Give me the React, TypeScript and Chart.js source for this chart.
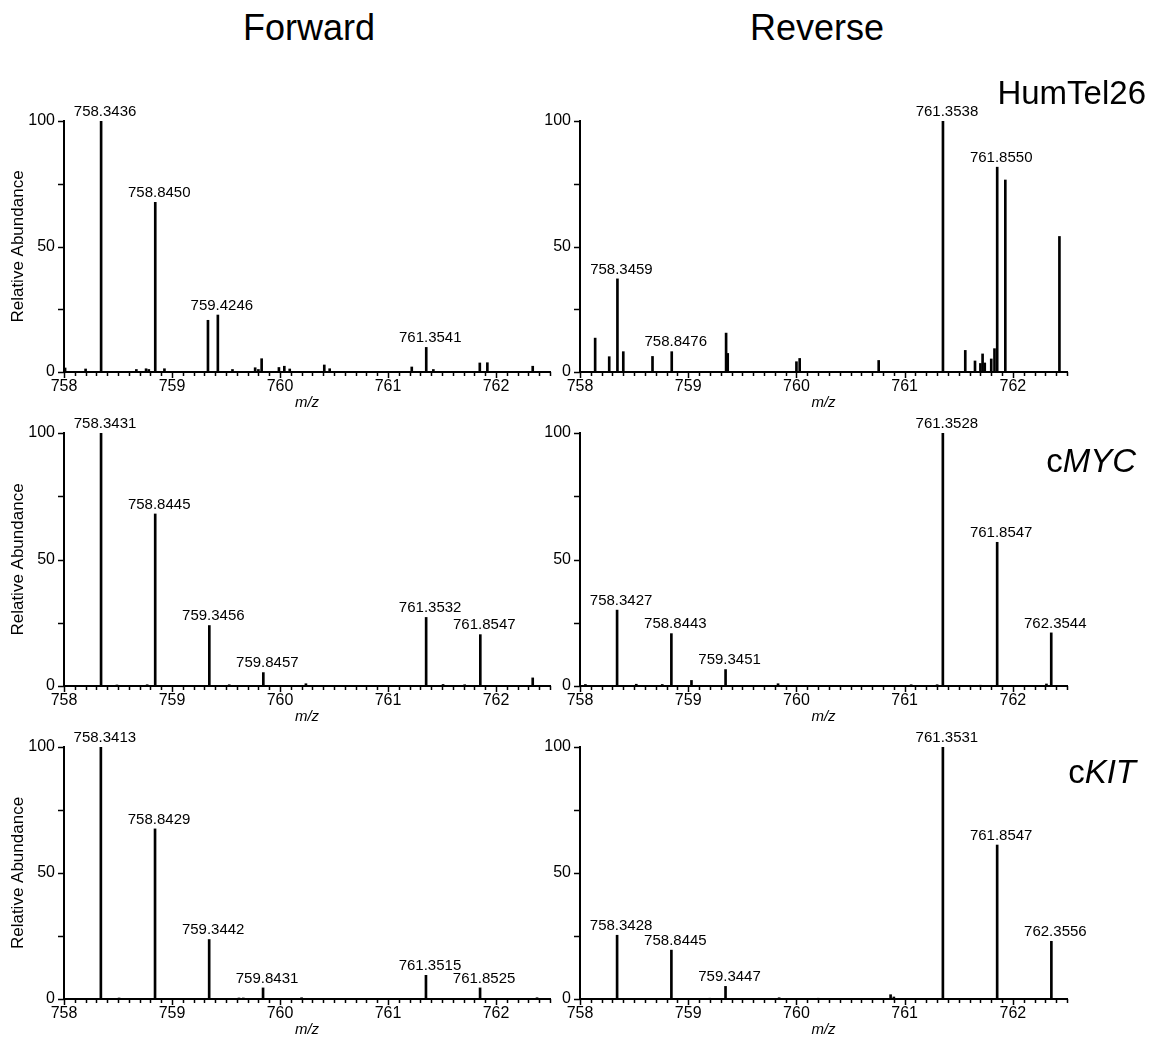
import React, { useEffect, useRef } from 'react';
import { Chart, registerables } from 'chart.js';

Chart.register(...registerables);

const FONT = '"Liberation Sans", Arial, Helvetica, sans-serif';

// Axis definitions
const X_MIN = 758;
const X_MAX = 762.5;
const X_STEP = 0.1;
const xTickLabels = [758, 759, 760, 761, 762];
const yTickValues = [0, 25, 50, 75, 100];
const yTickLabels = [0, 50, 100];

// Forward HumTel26
const fwdHumMz = [758.01, 758.2, 758.3436, 758.67, 758.76, 758.785, 758.845, 758.93, 759.333, 759.4246, 759.56, 759.77, 759.8, 759.83, 759.99, 760.04, 760.09, 760.41, 760.46, 761.22, 761.3541, 761.42, 761.85, 761.92, 762.34];
const fwdHumInt = [1.6, 1.2, 100, 1.0, 1.3, 1.0, 67.6, 1.3, 20.6, 22.7, 1.0, 1.7, 1.0, 5.3, 1.8, 2.3, 1.2, 2.8, 1.3, 2.0, 9.8, 1.0, 3.6, 3.7, 2.3];
const fwdHumLabels = ['758.3436', '758.8450', '759.4246', '761.3541'];

// Reverse HumTel26
const revHumMz = [758.14, 758.27, 758.3459, 758.4, 758.67, 758.8476, 759.35, 759.365, 760.0, 760.03, 760.76, 761.3538, 761.56, 761.65, 761.7, 761.72, 761.74, 761.8, 761.83, 761.855, 761.93, 762.43];
const revHumInt = [13.5, 6.1, 37.1, 8.1, 6.2, 8.1, 15.5, 7.4, 4.1, 5.4, 4.6, 100, 8.6, 4.4, 3.4, 7.2, 3.6, 5.2, 9.3, 81.6, 76.5, 54.0];
const revHumLabels = ['758.3459', '758.8476', '761.3538', '761.8550'];

// Forward cMYC
const fwdMycMz = [758.3431, 758.49, 758.77, 758.8445, 759.3456, 759.53, 759.8457, 760.24, 761.3532, 761.51, 761.71, 761.8547, 762.34];
const fwdMycInt = [100, 0.4, 0.5, 68.0, 23.9, 0.5, 5.3, 0.9, 27.1, 0.6, 0.5, 20.3, 3.2];
const fwdMycLabels = ['758.3431', '758.8445', '759.3456', '759.8457', '761.3532', '761.8547'];

// Reverse cMYC
const revMycMz = [758.05, 758.3427, 758.52, 758.76, 758.8443, 759.03, 759.3451, 759.83, 761.06, 761.3, 761.3528, 761.7, 761.8547, 762.31, 762.3544];
const revMycInt = [0.6, 30.0, 0.7, 0.6, 20.7, 2.2, 6.5, 0.9, 0.5, 0.5, 100, 0.3, 56.8, 0.8, 21.0];
const revMycLabels = ['758.3427', '758.8443', '759.3451', '761.3528', '761.8547', '762.3544'];

// Forward cKIT
const fwdKitMz = [758.3413, 758.51, 758.8429, 759.3442, 759.62, 759.66, 759.8431, 760.2, 761.3515, 761.8525, 762.38];
const fwdKitInt = [100, 0.4, 67.5, 23.6, 0.4, 0.4, 4.4, 0.5, 9.4, 4.4, 0.5];
const fwdKitLabels = ['758.3413', '758.8429', '759.3442', '759.8431', '761.3515', '761.8525'];

// Reverse cKIT
const revKitMz = [758.3428, 758.8445, 759.2, 759.3447, 759.84, 760.2, 760.87, 760.9, 761.3531, 761.8547, 762.3556];
const revKitInt = [25.3, 19.4, 0.3, 5.0, 0.5, 0.3, 1.7, 0.8, 100, 61.1, 22.9];
const revKitLabels = ['758.3428', '758.8445', '759.3447', '761.3531', '761.8547', '762.3556'];

const isInt = (v: number) => Math.abs(v - Math.round(v)) < 1e-6;

const spectrumPlugin = {
  id: 'spectrum',
  afterDraw(chart: any, _args: any, opts: any) {
    const { ctx, chartArea } = chart;
    const xs = chart.scales.x;
    const ys = chart.scales.y;
    ctx.save();
    // tick marks
    ctx.strokeStyle = '#000';
    ctx.lineWidth = 1.5;
    for (const t of xs.ticks) {
      const px = Math.round(xs.getPixelForValue(t.value)) + 0.5;
      const len = isInt(t.value) ? 6 : 4;
      ctx.beginPath();
      ctx.moveTo(px, chartArea.bottom);
      ctx.lineTo(px, chartArea.bottom + len);
      ctx.stroke();
    }
    for (const v of yTickValues) {
      const py = Math.round(ys.getPixelForValue(v)) + 0.5;
      ctx.beginPath();
      ctx.moveTo(chartArea.left - 6, py);
      ctx.lineTo(chartArea.left, py);
      ctx.stroke();
    }
    // peak labels
    ctx.font = `15px ${FONT}`;
    ctx.fillStyle = '#000';
    ctx.textAlign = 'center';
    ctx.textBaseline = 'bottom';
    const mz: number[] = opts.mz;
    const it: number[] = opts.intensity;
    for (const lab of opts.labels as string[]) {
      const v = parseFloat(lab);
      const i = mz.findIndex((m) => Math.abs(m - v) < 1e-4);
      if (i < 0) continue;
      const px = xs.getPixelForValue(mz[i]);
      const py = ys.getPixelForValue(it[i]);
      ctx.fillText(lab, px + 4, py - 2);
    }
    ctx.restore();
  },
};

type PanelProps = {
  mz: number[];
  intensity: number[];
  labels: string[];
  left: number;
  width: number;
  areaLeft: number;
  areaRight: number;
  areaTop: number;
  areaBottom: number;
  yTitle: boolean;
};

const PAD_TOP = 28;
const X_SCALE_H = 41;

function Panel(p: PanelProps) {
  const ref = useRef<HTMLCanvasElement | null>(null);
  const top = p.areaTop - PAD_TOP;
  const height = PAD_TOP + (p.areaBottom - p.areaTop) + X_SCALE_H;
  useEffect(() => {
    if (!ref.current) return;
    const yWidth = p.areaLeft - p.left;
    const padRight = p.left + p.width - p.areaRight;
    const chart = new Chart(ref.current, {
      type: 'bar',
      data: {
        datasets: [
          {
            data: p.mz.map((m, i) => ({ x: m, y: p.intensity[i] })),
            backgroundColor: '#000',
            borderWidth: 0,
            barThickness: 2,
          } as any,
        ],
      },
      options: {
        animation: false,
        responsive: false,
        events: [],
        layout: { padding: { top: PAD_TOP, right: padRight, left: 0, bottom: 0 } },
        plugins: {
          legend: { display: false },
          tooltip: { enabled: false },
          spectrum: { mz: p.mz, intensity: p.intensity, labels: p.labels },
        } as any,
        scales: {
          x: {
            type: 'linear',
            min: X_MIN,
            max: X_MAX,
            offset: false,
            grid: { display: false, drawTicks: false, offset: false },
            border: { display: true, color: '#000', width: 2 },
            ticks: {
              stepSize: X_STEP,
              autoSkip: false,
              maxRotation: 0,
              padding: 5,
              color: '#000',
              font: { family: FONT, size: 16 },
              callback: (v: any) => {
                const n = Number(v);
                const r = Math.round(n);
                return isInt(n) && xTickLabels.includes(r) ? String(r) : '';
              },
            },
            title: {
              display: true,
              text: 'm/z',
              color: '#000',
              font: { family: FONT, size: 15, style: 'italic' },
              padding: { top: 0, bottom: 1 },
            },
            afterFit: (s: any) => {
              s.height = X_SCALE_H;
            },
          },
          y: {
            type: 'linear',
            min: 0,
            max: 100,
            grid: { display: false, drawTicks: false },
            border: { display: true, color: '#000', width: 2 },
            ticks: {
              stepSize: 25,
              padding: 9,
              color: '#000',
              font: { family: FONT, size: 16 },
              callback: (v: any) => (yTickLabels.includes(Number(v)) ? String(v) : ''),
            },
            title: {
              display: p.yTitle,
              text: 'Relative Abundance',
              color: '#000',
              font: { family: FONT, size: 17 },
              padding: { top: 8, bottom: 0 },
            },
            afterFit: (s: any) => {
              s.width = yWidth;
            },
          },
        },
      } as any,
      plugins: [spectrumPlugin],
    });
    return () => chart.destroy();
  }, []);
  return (
    <canvas
      ref={ref}
      width={p.width}
      height={height}
      style={{ position: 'absolute', left: p.left, top, width: p.width, height }}
    />
  );
}

const LEFT = { left: 0, width: 570, areaLeft: 64, areaRight: 550 };
const RIGHT = { left: 536, width: 560, areaLeft: 580, areaRight: 1067 };
const ROWS = [
  { areaTop: 121, areaBottom: 372 },
  { areaTop: 433, areaBottom: 686 },
  { areaTop: 747, areaBottom: 999 },
];

const textBase: React.CSSProperties = {
  position: 'absolute',
  fontFamily: FONT,
  lineHeight: 1,
  color: '#000',
  whiteSpace: 'nowrap',
  zIndex: 2,
};

export default function App() {
  return (
    <div style={{ position: 'absolute', left: 0, top: 0, width: 1156, height: 1040, background: '#fff', overflow: 'hidden' }}>
      <Panel mz={fwdHumMz} intensity={fwdHumInt} labels={fwdHumLabels} {...LEFT} {...ROWS[0]} yTitle={true} />
      <Panel mz={revHumMz} intensity={revHumInt} labels={revHumLabels} {...RIGHT} {...ROWS[0]} yTitle={false} />
      <Panel mz={fwdMycMz} intensity={fwdMycInt} labels={fwdMycLabels} {...LEFT} {...ROWS[1]} yTitle={true} />
      <Panel mz={revMycMz} intensity={revMycInt} labels={revMycLabels} {...RIGHT} {...ROWS[1]} yTitle={false} />
      <Panel mz={fwdKitMz} intensity={fwdKitInt} labels={fwdKitLabels} {...LEFT} {...ROWS[2]} yTitle={true} />
      <Panel mz={revKitMz} intensity={revKitInt} labels={revKitLabels} {...RIGHT} {...ROWS[2]} yTitle={false} />

      <div style={{ ...textBase, fontSize: 36, left: 209, width: 200, textAlign: 'center', top: 10 }}>Forward</div>
      <div style={{ ...textBase, fontSize: 36, left: 717, width: 200, textAlign: 'center', top: 10 }}>Reverse</div>
      <div style={{ ...textBase, fontSize: 33, right: 1156 - 1146, top: 76 }}>HumTel26</div>
      <div style={{ ...textBase, fontSize: 33, right: 1156 - 1136, top: 444 }}>
        c<i>MYC</i>
      </div>
      <div style={{ ...textBase, fontSize: 33, right: 1156 - 1136, top: 755 }}>
        c<i>KIT</i>
      </div>
    </div>
  );
}
